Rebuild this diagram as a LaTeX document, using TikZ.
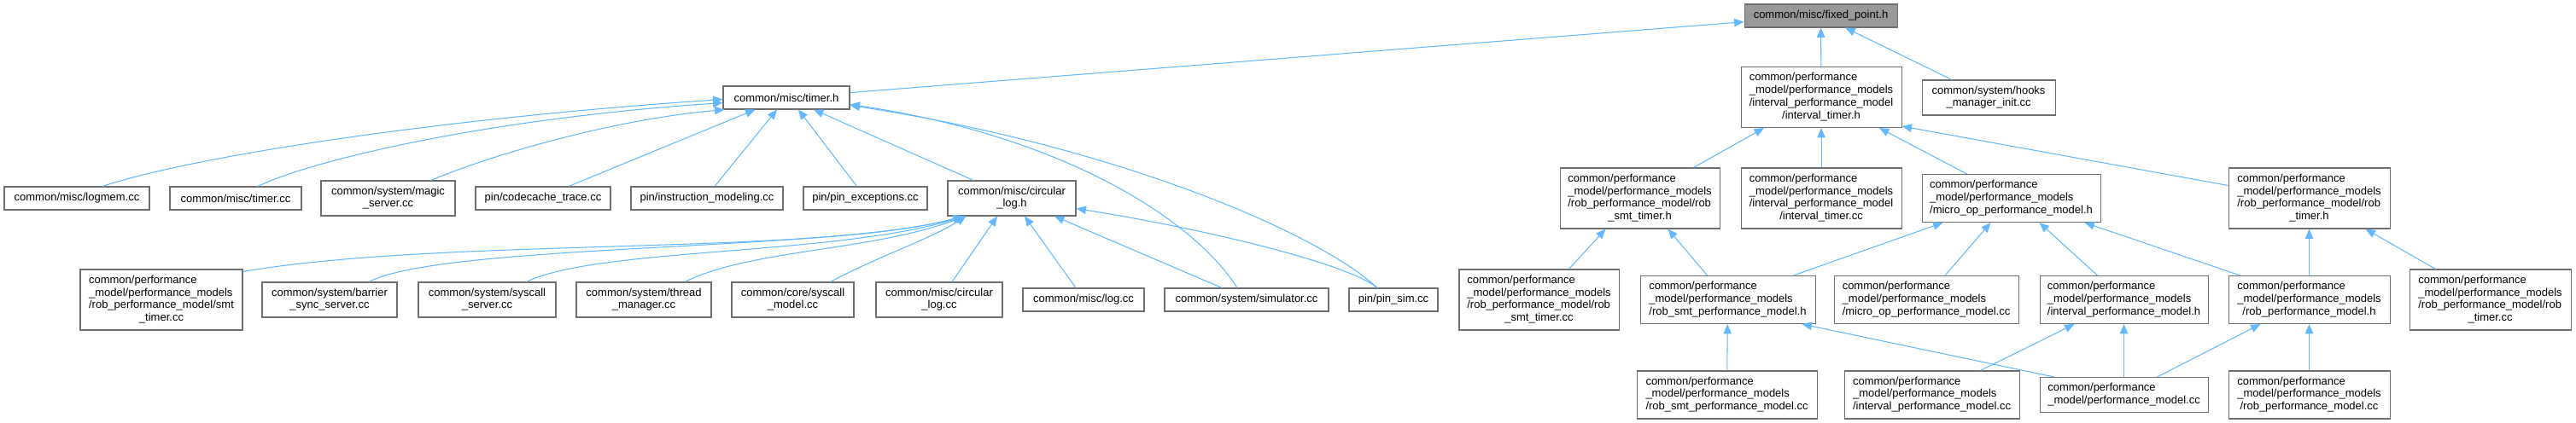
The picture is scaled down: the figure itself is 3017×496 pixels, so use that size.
\documentclass[tikz,border=0pt]{standalone}
\usepackage{fontspec}
\setmainfont{Liberation Sans}
\usepackage{tikz}
\usetikzlibrary{calc,arrows.meta}
\definecolor{edgec}{HTML}{63B8FF}
\definecolor{linec}{HTML}{6E6E6E}
\definecolor{rootc}{HTML}{999999}
\newcommand{\ml}[2]{\begin{tabular}{@{}l@{}}#1\\\multicolumn{1}{@{}c@{}}{#2}\end{tabular}}
\newcommand{\perfpath}{common/performance\\\_model/performance\_models}
\tikzset{
  ar/.style={-{Triangle[length=6.5pt,width=5.4pt]},line width=0.6pt,edgec},
  fbox/.style={draw=linec,line width=0.6pt,fill=white,inner sep=0pt,font=\fontsize{7.4}{8.5}\selectfont},
  rootbox/.style={fbox,fill=rootc},
  sz/.style 2 args={minimum width=#1*0.02cm,minimum height=#2*0.02cm}
}

\begin{document}
\begin{tikzpicture}[x=0.02cm,y=-0.02cm]
\useasboundingbox (0,0) rectangle (3017,496);

\node[rootbox,sz={179}{27}] (fixed) at (2132.5,18.5) {common/misc/fixed\_point.h};
\node[fbox,sz={148}{27}] (timerh) at (921,114.5) {common/misc/timer.h};
\node[fbox,sz={188}{71}] (ivtimerh) at (2133,114) {\ml{\perfpath\\/interval\_performance\_model}{/interval\_timer.h}};
\node[fbox,sz={156}{41}] (hooks) at (2329,114.5) {\ml{common/system/hooks}{\_manager\_init.cc}};

\node[fbox,sz={170}{27}] (logmem) at (90,232.5) {common/misc/logmem.cc};
\node[fbox,sz={154}{27}] (misctimercc) at (276,232.5) {common/misc/timer.cc};
\node[fbox,sz={157}{41}] (magic) at (454.5,232.5) {\ml{common/system/magic}{\_server.cc}};
\node[fbox,sz={158}{27}] (codecache) at (636,232.5) {pin/codecache\_trace.cc};
\node[fbox,sz={178}{27}] (instrmod) at (828,232.5) {pin/instruction\_modeling.cc};
\node[fbox,sz={145}{27}] (pinexc) at (1013.5,232.5) {pin/pin\_exceptions.cc};
\node[fbox,sz={150}{41}] (circlogh) at (1185,232.5) {\ml{common/misc/circular}{\_log.h}};
\node[fbox,sz={187}{71}] (robsmttimerh) at (1920.5,232.5) {\ml{\perfpath\\/rob\_performance\_model/rob}{\_smt\_timer.h}};
\node[fbox,sz={188}{71}] (ivtimercc) at (2133,232.5) {\ml{\perfpath\\/interval\_performance\_model}{/interval\_timer.cc}};
\node[fbox,sz={209}{56}] (microoph) at (2355.5,232.5) {\ml{\perfpath}{/micro\_op\_performance\_model.h}};
\node[fbox,sz={189}{71}] (robtimerh) at (2704.5,232.5) {\ml{\perfpath\\/rob\_performance\_model/rob}{\_timer.h}};

\node[fbox,sz={190}{71}] (smttimercc) at (189,351.5) {\ml{\perfpath\\/rob\_performance\_model/smt}{\_timer.cc}};
\node[fbox,sz={158}{41}] (barrier) at (386,351.5) {\ml{common/system/barrier}{\_sync\_server.cc}};
\node[fbox,sz={161}{41}] (syscallsrv) at (570.5,351.5) {\ml{common/system/syscall}{\_server.cc}};
\node[fbox,sz={158}{41}] (threadmgr) at (754,351.5) {\ml{common/system/thread}{\_manager.cc}};
\node[fbox,sz={143}{41}] (syscallmodel) at (928.5,351.5) {\ml{common/core/syscall}{\_model.cc}};
\node[fbox,sz={148}{41}] (circlogcc) at (1100,351.5) {\ml{common/misc/circular}{\_log.cc}};
\node[fbox,sz={142}{27}] (logcc) at (1269,351.5) {common/misc/log.cc};
\node[fbox,sz={192}{27}] (simcc) at (1460,351.5) {common/system/simulator.cc};
\node[fbox,sz={104}{27}] (pinsim) at (1632,351.5) {pin/pin\_sim.cc};
\node[fbox,sz={187}{71}] (robsmttimercc) at (1802.5,351.5) {\ml{\perfpath\\/rob\_performance\_model/rob}{\_smt\_timer.cc}};
\node[fbox,sz={205}{56}] (robsmtpmh) at (2023.5,351.5) {\ml{\perfpath}{/rob\_smt\_performance\_model.h}};
\node[fbox,sz={216}{56}] (microopcc) at (2256,351.5) {\ml{\perfpath}{/micro\_op\_performance\_model.cc}};
\node[fbox,sz={197}{56}] (ivpmh) at (2487.5,351.5) {\ml{\perfpath}{/interval\_performance\_model.h}};
\node[fbox,sz={189}{56}] (robpmh) at (2704.5,351.5) {\ml{\perfpath}{/rob\_performance\_model.h}};
\node[fbox,sz={189}{71}] (robtimercc) at (2916.5,351.5) {\ml{\perfpath\\/rob\_performance\_model/rob}{\_timer.cc}};

\node[fbox,sz={211}{56}] (robsmtpmcc) at (2022.5,463) {\ml{\perfpath}{/rob\_smt\_performance\_model.cc}};
\node[fbox,sz={205}{56}] (ivpmcc) at (2262.5,463) {\ml{\perfpath}{/interval\_performance\_model.cc}};
\node[fbox,sz={197}{41}] (pmcc) at (2487.5,463) {\ml{common/performance}{\_model/performance\_model.cc}};
\node[fbox,sz={189}{56}] (robpmcc) at (2704.5,463) {\ml{\perfpath}{/rob\_performance\_model.cc}};

\draw[ar] (timerh) -- (fixed);
\draw[ar] (ivtimerh) -- (fixed);
\draw[ar] (hooks) -- (fixed);

\draw[ar] ($(logmem.north)+(30,0)$) .. controls (220,185) and (500,140) .. ($(timerh.west)+(0,2)$);
\draw[ar] ($(misctimercc.north)+(26,0)$) .. controls (360,190) and (560,140) .. ($(timerh.west)+(0,6)$);
\draw[ar] ($(magic.north)+(50,0)$) .. controls (580,180) and (720,140) .. ($(timerh.south west)+(2,0)$);
\draw[ar] ($(codecache.north)+(30,0)$) -- ($(timerh.south west)+(38,0)$);
\draw[ar] ($(instrmod.north)+(9,0)$) -- ($(timerh.south)+(-11,0)$);
\draw[ar] ($(pinexc.north)+(-10,0)$) -- ($(timerh.south)+(14,0)$);
\draw[ar] ($(circlogh.north)+(-45,0)$) -- ($(timerh.south)+(32,0)$);
\draw[ar] ($(simcc.north)+(-11,0)$) .. controls (1400,260) and (1250,160) .. ($(timerh.east)+(0,8)$);
\draw[ar] ($(pinsim.north)+(-19,0)$) .. controls (1540,270) and (1300,170) .. ($(timerh.east)+(0,9)$);

\draw[ar] ($(smttimercc.north east)+(0,3)$) .. controls (520,278) and (960,300) .. ($(circlogh.south west)+(18,0)$);
\draw[ar] ($(barrier.north)+(46,0)$) .. controls (520,285) and (980,295) .. ($(circlogh.south west)+(19,0)$);
\draw[ar] ($(syscallsrv.north)+(46,0)$) .. controls (700,290) and (980,300) .. ($(circlogh.south west)+(20,0)$);
\draw[ar] ($(threadmgr.north)+(48,0)$) .. controls (880,292) and (1020,295) .. ($(circlogh.south west)+(21,0)$);
\draw[ar] ($(syscallmodel.north)+(44,0)$) .. controls (1030,300) and (1090,280) .. ($(circlogh.south west)+(22,0)$);
\draw[ar] ($(circlogcc.north)+(15,0)$) -- ($(circlogh.south)+(-17,0)$);
\draw[ar] ($(logcc.north)+(-9,0)$) -- ($(circlogh.south)+(15,0)$);
\draw[ar] ($(simcc.north)+(-29,0)$) -- ($(circlogh.south)+(50,0)$);
\draw[ar] ($(pinsim.north)+(-19,0)$) .. controls (1580,310) and (1420,270) .. ($(circlogh.east)+(0,12)$);

\draw[ar] ($(robsmttimerh.north)+(63,0)$) -- ($(ivtimerh.south)+(-67,0)$);
\draw[ar] (ivtimercc) -- (ivtimerh);
\draw[ar] ($(microoph.north)+(-52,0)$) -- ($(ivtimerh.south)+(68,0)$);
\draw[ar] ($(robtimerh.north west)+(0,21)$) -- ($(ivtimerh.south east)+(0,-2)$);

\draw[ar] ($(robsmttimercc.north)+(35,0)$) -- ($(robsmttimerh.south)+(-40,0)$);
\draw[ar] ($(robsmtpmh.north)+(-24,0)$) -- ($(robsmttimerh.south)+(33,0)$);

\draw[ar] ($(robsmtpmh.north)+(77,0)$) -- ($(microoph.south)+(-80,0)$);
\draw[ar] ($(microopcc.north)+(22,0)$) -- ($(microoph.south)+(-24,0)$);
\draw[ar] ($(ivpmh.north)+(-31,0)$) -- ($(microoph.south)+(33,0)$);
\draw[ar] ($(robpmh.north)+(-81,0)$) -- ($(microoph.south)+(86,0)$);

\draw[ar] (robpmh) -- (robtimerh);
\draw[ar] ($(robtimercc.north)+(-64,0)$) -- ($(robtimerh.south)+(66,0)$);

\draw[ar] (robsmtpmcc) -- (robsmtpmh);
\draw[ar] ($(pmcc.north west)+(17,0)$) -- ($(robsmtpmh.south)+(87,0)$);
\draw[ar] ($(ivpmcc.north)+(57,0)$) -- ($(ivpmh.south)+(-58,0)$);
\draw[ar] (pmcc) -- (ivpmh);
\draw[ar] ($(pmcc.north)+(39,0)$) -- ($(robpmh.south)+(-57,0)$);
\draw[ar] (robpmcc) -- (robpmh);
\end{tikzpicture}
\end{document}
